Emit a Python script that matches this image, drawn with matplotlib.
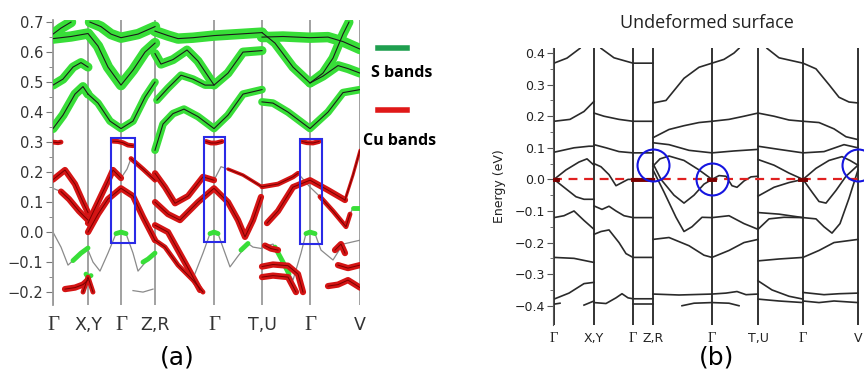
import numpy as np
import matplotlib.pyplot as plt
from matplotlib.patches import Rectangle
from matplotlib.lines import Line2D

# ---------------- panel (a) data : (k, E) points
kpath_a = [0, 35, 68, 102, 161, 209, 257, 307]
klabels_a = ['Γ', 'X,Y', 'Γ', 'Z,R', 'Γ', 'T,U', 'Γ', 'V']
yticks_a = [-0.2, -0.1, 0.0, 0.1, 0.2, 0.3, 0.4, 0.5, 0.6, 0.7]

# S bands (fat green)
s_bands = [
    [(0, 0.645), (18, 0.652), (35, 0.662), (45, 0.62), (55, 0.55), (68, 0.49), (80, 0.54), (92, 0.6), (102, 0.63)],
    [(37, 0.70), (48, 0.685), (58, 0.66), (68, 0.648), (85, 0.66), (102, 0.685)],
    [(0, 0.66), (8, 0.68), (18, 0.70)],
    [(0, 0.49), (10, 0.51), (20, 0.55), (28, 0.565), (35, 0.55)],
    [(0, 0.345), (10, 0.39), (22, 0.46), (30, 0.485), (35, 0.46)],
    [(35, 0.46), (45, 0.43), (57, 0.37), (68, 0.345), (80, 0.37), (92, 0.45), (102, 0.5)],
    [(102, 0.67), (115, 0.655), (125, 0.645), (140, 0.648), (161, 0.655), (185, 0.66), (209, 0.665)],
    [(102, 0.595), (108, 0.56), (120, 0.575), (134, 0.607), (145, 0.57), (161, 0.49), (175, 0.53), (190, 0.6), (209, 0.605)],
    [(104, 0.44), (115, 0.48), (128, 0.523), (140, 0.51), (152, 0.49), (161, 0.49)],
    [(102, 0.273), (110, 0.36), (120, 0.395), (131, 0.41), (145, 0.385), (161, 0.345), (175, 0.39), (190, 0.46), (209, 0.475)],
    [(209, 0.65), (230, 0.652), (257, 0.648), (275, 0.65), (290, 0.635), (307, 0.61)],
    [(209, 0.665), (222, 0.63), (240, 0.55), (257, 0.497), (270, 0.53), (280, 0.58), (290, 0.66), (296, 0.70)],
    [(257, 0.497), (270, 0.52), (285, 0.555), (295, 0.545), (307, 0.53)],
    [(209, 0.434), (220, 0.43), (235, 0.4), (257, 0.345), (275, 0.4), (290, 0.465), (307, 0.475)],
]
s_widths = [7.5, 7.5, 7.5, 6.5, 6.5, 5.5, 7.5, 6.5, 5.5, 5.5, 7.5, 6.5, 6.5, 5.5]

# Cu bands (fat red)
cu_bands = [
    [(0, 0.30), (5, 0.298), (8, 0.30)],
    [(60, 0.303), (65, 0.302), (70, 0.298), (75, 0.29), (80, 0.288)],
    [(153, 0.302), (158, 0.297), (163, 0.297), (169, 0.302)],
    [(249, 0.302), (254, 0.298), (260, 0.297), (266, 0.302)],
    [(0, 0.175), (12, 0.207), (22, 0.16), (30, 0.1), (35, 0.065)],
    [(8, 0.135), (16, 0.11), (26, 0.07), (35, 0.04)],
    [(35, 0.0), (45, 0.06), (55, 0.11), (68, 0.146), (80, 0.12), (90, 0.05), (102, -0.027)],
    [(35, 0.03), (45, 0.1), (55, 0.17), (60, 0.207), (68, 0.18)],
    [(78, 0.245), (90, 0.21), (102, 0.173)],
    [(102, 0.196), (112, 0.15), (122, 0.096), (135, 0.12), (150, 0.184), (161, 0.173)],
    [(175, 0.21), (190, 0.19), (209, 0.151)],
    [(102, 0.1), (115, 0.06), (127, 0.04), (145, 0.1), (161, 0.146), (175, 0.1), (185, 0.04), (192, -0.016), (200, 0.04), (208, 0.117)],
    [(102, 0.023), (115, 0.0), (125, -0.06), (135, -0.12), (147, -0.193)],
    [(102, -0.027), (112, -0.05), (125, -0.11), (140, -0.16), (150, -0.2)],
    [(209, 0.151), (225, 0.16), (240, 0.184), (245, 0.196)],
    [(267, 0.118), (280, 0.07), (290, 0.03), (293, 0.018), (297, 0.06)],
    [(214, 0.03), (225, 0.07), (240, 0.15), (257, 0.173), (275, 0.14), (292, 0.107)],
    [(292, 0.107), (300, 0.19), (307, 0.273)],
    [(209, -0.115), (220, -0.108), (235, -0.112), (245, -0.14), (250, -0.2)],
    [(209, -0.15), (220, -0.145), (235, -0.15), (243, -0.2)],
    [(212, -0.045), (218, -0.055), (225, -0.06)],
    [(275, -0.18), (285, -0.175), (295, -0.16), (307, -0.185)],
    [(285, -0.11), (295, -0.12), (307, -0.11)],
    [(282, -0.06), (288, -0.04), (292, -0.07)],
    [(12, -0.19), (22, -0.185), (30, -0.175), (35, -0.16)],
    [(30, -0.2), (35, -0.15), (40, -0.2)],
]
cu_widths = [3.5, 3.5, 3.5, 3.5, 4.5, 4.5, 4.5, 4.5, 3.5, 4.5, 2.5, 4.5, 4.5, 3.5,
             3.5, 3.5, 4.5, 2.2, 4.5, 4.5, 4.5, 4.5, 4.5, 4.5, 4.5, 3.5]

# weak (thin) bands
thin_bands = [
    [(0, 0.146), (8, 0.135)],
    [(0, 0.0), (8, -0.05), (15, -0.11), (25, -0.08), (35, -0.053)],
    [(35, -0.06), (40, -0.1), (47, -0.13), (55, -0.07), (63, -0.005), (68, 0.0), (73, -0.005), (80, -0.07), (85, -0.13), (95, -0.09), (102, -0.07)],
    [(68, 0.18), (74, 0.21), (78, 0.245)],
    [(161, 0.173), (168, 0.218), (175, 0.21)],
    [(140, -0.155), (150, -0.07), (157, -0.005), (161, 0.0), (165, -0.005), (172, -0.07), (177, -0.116), (185, -0.08), (195, -0.038), (200, -0.05), (209, -0.055)],
    [(209, -0.05), (220, -0.04), (230, -0.1), (240, -0.16), (248, -0.07), (253, -0.005), (257, 0.0), (262, -0.005), (268, -0.06), (280, -0.093), (290, -0.04), (307, -0.027)],
    [(245, 0.196), (257, 0.15), (267, 0.118)],
    [(297, 0.06), (300, 0.08), (307, 0.08)],
    [(80, -0.195), (90, -0.2), (100, -0.19)],
]
# green weight on parts of the thin bands
green_bits = [
    [(20, -0.095), (28, -0.07), (35, -0.053)],
    [(63, -0.005), (68, 0.0), (73, -0.005)],
    [(90, -0.1), (95, -0.09), (102, -0.07)],
    [(157, -0.005), (161, 0.0), (165, -0.005)],
    [(188, -0.06), (195, -0.038)],
    [(222, -0.05), (230, -0.1), (236, -0.14)],
    [(253, -0.005), (257, 0.0), (262, -0.005)],
    [(300, 0.08), (307, 0.08)],
    [(33, -0.14), (35, -0.15), (38, -0.145)],
]
boxes_a = [(58, -0.036, 24, 0.349), (151, -0.032, 21, 0.35), (247, -0.038, 22, 0.35)]

# ---------------- panel (b) data
kpath_b = [0, 40, 79, 99, 158, 204, 249, 304]
klabels_b = ['Γ', 'X,Y', 'Γ', 'Z,R', 'Γ', 'T,U', 'Γ', 'V']
yticks_b = [-0.4, -0.3, -0.2, -0.1, 0.0, 0.1, 0.2, 0.3, 0.4]
bands_b = [
    [(0, 0.368), (13, 0.384), (26, 0.415)],
    [(0, 0.184), (16, 0.19), (30, 0.215), (40, 0.247)],
    [(0, 0.086), (20, 0.1), (35, 0.105), (40, 0.105)],
    [(0, 0.0), (12, 0.03), (25, 0.055), (33, 0.065), (40, 0.045)],
    [(0, 0.0), (12, -0.03), (22, -0.055), (30, -0.063), (40, -0.063)],
    [(0, -0.121), (10, -0.115), (20, -0.1), (30, -0.13), (40, -0.158)],
    [(0, -0.247), (20, -0.25), (40, -0.263)],
    [(0, -0.379), (15, -0.36), (30, -0.33), (40, -0.326)],
    [(0, -0.395), (6, -0.392)],
    [(30, -0.398), (40, -0.385)],
    [(47, 0.415), (60, 0.385), (79, 0.368), (99, 0.368)],
    [(40, 0.21), (50, 0.2), (65, 0.19), (79, 0.184), (99, 0.184)],
    [(40, 0.11), (52, 0.1), (65, 0.088), (79, 0.084), (99, 0.084)],
    [(40, 0.05), (47, 0.04), (55, 0.015), (62, -0.02), (68, -0.01), (74, 0.0), (79, 0.0), (99, 0.0)],
    [(40, -0.084), (48, -0.095), (55, -0.085), (62, -0.1), (70, -0.115), (79, -0.121), (99, -0.121)],
    [(40, -0.174), (47, -0.165), (55, -0.16), (65, -0.2), (72, -0.235), (79, -0.247), (99, -0.247)],
    [(40, -0.39), (52, -0.393), (62, -0.375), (68, -0.362), (74, -0.375), (79, -0.378), (99, -0.378)],
    [(79, -0.393), (99, -0.393)],
    [(99, 0.242), (112, 0.25), (130, 0.32), (145, 0.355), (158, 0.368)],
    [(99, 0.132), (115, 0.158), (130, 0.17), (145, 0.18), (158, 0.184)],
    [(99, 0.116), (115, 0.11), (135, 0.092), (158, 0.084)],
    [(99, 0.042), (106, 0.065), (115, 0.074), (130, 0.06), (145, 0.03), (158, 0.0)],
    [(99, 0.05), (107, 0.0), (120, -0.05), (130, -0.075), (140, -0.05), (150, -0.015), (158, 0.0)],
    [(99, 0.03), (110, -0.04), (122, -0.12), (130, -0.165), (138, -0.15), (148, -0.12), (158, -0.121)],
    [(99, -0.19), (115, -0.184), (135, -0.21), (150, -0.24), (158, -0.247)],
    [(99, -0.363), (125, -0.366), (158, -0.363)],
    [(128, -0.4), (140, -0.392), (158, -0.39), (175, -0.392), (185, -0.4)],
    [(158, 0.368), (170, 0.38), (180, 0.40), (185, 0.415)],
    [(158, 0.184), (175, 0.19), (190, 0.2), (204, 0.21)],
    [(158, 0.084), (180, 0.09), (204, 0.095)],
    [(158, 0.0), (165, 0.012), (172, 0.01), (178, -0.02), (183, -0.025), (190, -0.005), (197, 0.008), (204, 0.01)],
    [(158, -0.121), (175, -0.115), (190, -0.14), (204, -0.158)],
    [(158, -0.247), (175, -0.225), (190, -0.2), (204, -0.19)],
    [(158, -0.363), (172, -0.36), (183, -0.355), (192, -0.365), (204, -0.363)],
    [(213, 0.415), (225, 0.385), (249, 0.368)],
    [(204, 0.21), (220, 0.2), (235, 0.188), (249, 0.184)],
    [(204, 0.105), (225, 0.095), (249, 0.084)],
    [(204, 0.063), (220, 0.045), (235, 0.02), (249, 0.0)],
    [(204, -0.053), (220, -0.025), (235, -0.01), (249, 0.0)],
    [(204, -0.105), (225, -0.11), (249, -0.121)],
    [(204, -0.158), (215, -0.125), (230, -0.12), (249, -0.121)],
    [(204, -0.258), (225, -0.252), (249, -0.247)],
    [(204, -0.321), (218, -0.35), (235, -0.37), (249, -0.379)],
    [(204, -0.379), (225, -0.385), (249, -0.39)],
    [(249, 0.368), (262, 0.35), (275, 0.3), (285, 0.26), (295, 0.245), (304, 0.242)],
    [(249, 0.184), (265, 0.18), (280, 0.16), (292, 0.135), (304, 0.126)],
    [(249, 0.084), (270, 0.088), (290, 0.11), (304, 0.1)],
    [(249, 0.0), (262, 0.035), (275, 0.06), (288, 0.072), (296, 0.06), (304, 0.045)],
    [(249, 0.0), (258, -0.04), (265, -0.07), (272, -0.075), (282, -0.035), (292, 0.01), (304, 0.045)],
    [(249, -0.121), (262, -0.125), (270, -0.15), (278, -0.17), (286, -0.14), (295, -0.06), (304, 0.03)],
    [(249, -0.247), (265, -0.225), (280, -0.2), (304, -0.19)],
    [(249, -0.358), (270, -0.365), (285, -0.362), (304, -0.36)],
    [(249, -0.385), (265, -0.39), (280, -0.385), (304, -0.39)],
]
fermi_dark = [(-1, 4), (79, 99), (155, 161), (246, 252)]
circles_b = [(99, 0.045), (158, 0.0), (304, 0.045)]

green = '#38de38'
red = '#d41414'

fig = plt.figure(figsize=(8.64, 3.87), dpi=100)

# ---------------- panel (a)
ax = fig.add_axes([53/864, 82/387, 307/864, 285/387])
for kv in kpath_a:
    ax.axvline(kv, color='#9a9a9a', lw=1.3, zorder=1)
for band in thin_bands:
    k, e = np.array(band).T
    ax.plot(k, e, color='#8a8a8a', lw=0.9, zorder=2)
for band in green_bits:
    k, e = np.array(band).T
    ax.plot(k, e, color=green, lw=3.5, solid_capstyle='round', zorder=2)
for band, w in zip(s_bands, s_widths):
    k, e = np.array(band).T
    ax.plot(k, e, color=green, lw=w, solid_capstyle='round', solid_joinstyle='round', zorder=3)
    ax.plot(k, e, color='#1a1a1a', lw=0.8, zorder=4)
for band, w in zip(cu_bands, cu_widths):
    k, e = np.array(band).T
    ax.plot(k, e, color=red, lw=w, solid_capstyle='round', solid_joinstyle='round', zorder=3)
    ax.plot(k, e, color='#7a0000', lw=0.7, zorder=4)
for x0, y0, w, h in boxes_a:
    ax.add_patch(Rectangle((x0, y0), w, h, fill=False, ec='#2a2ae6', lw=1.5, zorder=6))

ax.set_xlim(0, 307)
ax.set_ylim(-0.243, 0.707)
ax.set_xticks(kpath_a)
ax.set_xticklabels(klabels_a, fontsize=12.5, color='#333333')
ax.tick_params(axis='x', length=0, pad=8)
ax.set_yticks(yticks_a)
ax.set_yticklabels(['−0.2', '−0.1', '0.0', '0.1', '0.2', '0.3', '0.4', '0.5', '0.6', '0.7'],
                   fontsize=10.5, color='#333333')
ax.set_yticks(np.arange(-0.15, 0.7, 0.1), minor=True)
ax.tick_params(axis='y', which='major', length=5, color='#777777', pad=2)
ax.tick_params(axis='y', which='minor', length=3, color='#777777')
for sp in ['top', 'right', 'bottom']:
    ax.spines[sp].set_visible(False)
ax.spines['left'].set_color('#9a9a9a')
ax.spines['left'].set_linewidth(1.3)
for lab in ax.get_xticklabels():
    if lab.get_text() == 'Γ':
        lab.set_fontfamily('Liberation Serif')
        lab.set_fontsize(15)

# legend of panel (a)
fig.add_artist(Line2D([378/864, 407/864], [1 - 48/387] * 2, color='#1f9f4f', lw=4))
fig.text(371/864, 1 - 73/387, 'S bands', fontsize=11.5, fontweight='bold',
         family='Open Sans', va='center', ha='left')
fig.add_artist(Line2D([378/864, 407/864], [1 - 110/387] * 2, color='#e01818', lw=4))
fig.text(363/864, 1 - 141/387, 'Cu bands', fontsize=11.5, fontweight='bold',
         family='Open Sans', va='center', ha='left')
fig.text(177/864, 1 - 357/387, '(a)', fontsize=18, ha='center', va='center')

# ---------------- panel (b)
bx = fig.add_axes([553/864, 62/387, 309/864, 277/387])
for kv in kpath_b:
    bx.axvline(kv, color='#222222', lw=1.3, zorder=1)
for band in bands_b:
    k, e = np.array(band).T
    bx.plot(k, e, color='#2a2a2a', lw=1.2, zorder=2)
bx.axhline(0.0, color='#e02020', lw=1.6, ls=(0, (4, 3)), zorder=3)
for k0, k1 in fermi_dark:
    bx.plot([k0, k1], [-0.002, -0.002], color='#7a0000', lw=2.8, zorder=3)
for kc, ec in circles_b:
    bx.plot([kc], [ec], marker='o', ms=23, mfc='none', mec='#1515e0', mew=1.5,
            zorder=5, clip_on=False)

bx.set_xlim(-1, 308)
bx.set_ylim(-0.461, 0.416)
bx.set_xticks(kpath_b)
bx.set_xticklabels(klabels_b, fontsize=9, color='#222222')
bx.tick_params(axis='x', length=0, pad=5)
bx.set_yticks(yticks_b)
bx.set_yticklabels(['−0.4', '−0.3', '−0.2', '−0.1', '0.0', '0.1', '0.2', '0.3', '0.4'],
                   fontsize=9, color='#222222')
bx.set_yticks(np.arange(-0.35, 0.4, 0.1), minor=True)
bx.tick_params(axis='y', which='major', length=4, color='#555555', pad=2)
bx.tick_params(axis='y', which='minor', length=2.5, color='#555555')
for sp in ['top', 'right', 'bottom']:
    bx.spines[sp].set_visible(False)
bx.spines['left'].set_color('#555555')
bx.set_ylabel('Energy (eV)', fontsize=9, labelpad=6, color='#222222')
for lab in bx.get_xticklabels():
    if lab.get_text() == 'Γ':
        lab.set_fontfamily('Liberation Serif')
        lab.set_fontsize(10.5)
fig.text(707/864, 1 - 23/387, 'Undeformed surface', fontsize=13, family='Open Sans',
         ha='center', va='center', color='#222222')
fig.text(717/864, 1 - 357/387, '(b)', fontsize=18, ha='center', va='center')

fig.savefig('out.png', dpi=100)
